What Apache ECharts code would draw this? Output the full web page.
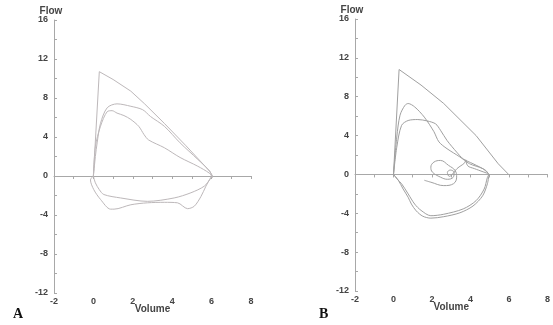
<!DOCTYPE html>
<html><head><meta charset="utf-8">
<script src="https://cdn.jsdelivr.net/npm/echarts@6/dist/echarts.min.js"></script>
<style>html,body{margin:0;padding:0;background:#fff}#c{width:553px;height:325px}</style>
</head><body><div id="c"></div>
<script>
// Axis ranges / ticks
const xMin = -2, xMax = 8, xStep = 2;
const yMin = -12, yMax = 16, yStep = 4;
const panelLabels = ['A', 'B'];

// Panel A curves: [volume, flow]
const A_predicted = [[0,0],[0.3,10.7],[1.0,9.9],[1.9,8.7],[2.6,7.4],[3.6,5.4],[4.7,3.1],[5.9,0.5],[6.05,0]];
const A_exp1 = [[0,0],[0.1,2.0],[0.19,3.4],[0.36,5.4],[0.7,7.0],[1.2,7.4],[1.9,7.15],[2.5,6.8],[2.9,6.1],[3.6,5.1],[4.4,3.4],[5.3,1.7],[5.9,0.5],[6.05,-0.2]];
const A_exp2 = [[0,0],[0.1,3.0],[0.36,5.1],[0.7,6.6],[0.95,6.7],[1.2,6.45],[1.55,6.2],[1.9,5.8],[2.3,5.1],[2.57,4.25],[2.8,3.7],[3.6,2.9],[4.4,1.9],[5.3,1.0],[5.88,0.3],[6.0,0]];
const A_insp1 = [[0,0],[-0.15,-0.4],[0.02,-1.4],[0.36,-2.4],[0.87,-3.4],[1.05,-3.4],[1.9,-2.95],[2.74,-2.75],[3.6,-2.7],[4.27,-2.75],[4.78,-3.35],[5.12,-3.1],[5.46,-2.1],[5.71,-1.05],[5.9,-0.35],[6.0,0]];
const A_insp2 = [[0,0],[0.1,-0.7],[0.3,-1.4],[0.53,-1.9],[1.38,-2.25],[2.74,-2.6],[4.1,-2.25],[4.95,-1.72],[5.63,-1.04],[5.97,-0.2],[6.05,0]];

// Panel B curves
const B_predicted = [[0,0],[0.29,10.8],[1.43,9.2],[2.61,7.3],[4.29,4.0],[5.44,1.1],[5.98,0]];
const B_exp1 = [[0,0],[0.17,3.85],[0.34,6.1],[0.59,7.1],[0.76,7.3],[1.1,6.95],[1.6,5.9],[2.1,4.4],[2.36,3.35],[2.78,2.65],[3.45,1.8],[3.95,1.1],[4.63,0.6],[4.96,0.05]];
const B_exp2 = [[0,0],[0.17,2.8],[0.42,5.05],[0.76,5.55],[1.26,5.65],[1.77,5.5],[2.19,5.2],[2.44,4.55],[2.78,3.5],[3.28,2.3],[3.62,1.6],[4.13,1.1],[4.8,0.4],[4.96,-0.1]];
const B_tidal = [[1.6,-0.6],[1.94,-0.8],[2.61,-1.15],[3.12,-0.95],[3.28,-0.28],[3.2,0.4],[2.86,0.93],[2.44,1.44],[2.1,1.27],[1.94,0.75],[2.02,0.24],[2.44,-0.28],[2.8,-0.5],[3.1,-0.3],[3.15,0.2],[2.95,0.45],[2.8,0.2],[2.9,-0.2],[3.05,0],[3.3,0.6],[3.7,1.2],[3.75,1.5],[3.85,0.9],[4.2,0.6],[4.9,0.1]];
const B_insp1 = [[0,0],[0.25,-0.6],[0.5,-1.5],[0.76,-2.35],[0.93,-3.05],[1.18,-3.75],[1.52,-4.3],[1.94,-4.5],[2.61,-4.35],[3.45,-3.95],[4.13,-3.25],[4.63,-2.2],[4.88,-0.95],[4.96,0]];
const B_insp2 = [[0,0],[0.2,-0.5],[0.42,-0.96],[0.76,-2.0],[1.1,-3.05],[1.43,-3.7],[1.94,-4.25],[2.61,-4.1],[3.62,-3.55],[4.29,-2.7],[4.71,-1.5],[4.88,-0.3],[4.96,0]];

const axisColor = '#a8a8a8';
const labelColor = '#444';
const labelFont = {fontFamily:'Liberation Sans, Arial, sans-serif', fontWeight:'bold', fontSize:9, color:labelColor};

const grids = [
  {left:54, right:302, top:20, bottom:32},
  {left:355, right:0, top:19, bottom:34}
];

const xAxes = [], yAxes = [];
grids.forEach((g, i) => {
  // bottom label axis
  xAxes.push({type:'value', gridIndex:i, min:xMin, max:xMax, interval:xStep,
    position:'bottom',
    axisLine:{show:false, onZero:false}, axisTick:{show:false}, splitLine:{show:false},
    axisLabel:Object.assign({margin:4}, labelFont),
    name:'Volume', nameLocation:'middle', nameGap:11, nameMoveOverlap:false,
    nameTextStyle:{fontFamily:'Liberation Sans, Arial, sans-serif', fontWeight:'bold', fontSize:10, color:labelColor}
  });
  // zero line axis
  xAxes.push({type:'value', gridIndex:i, min:xMin, max:xMax, interval:xStep,
    position:'bottom',
    axisLine:{show:true, onZero:true, lineStyle:{color:axisColor, width:1}},
    axisTick:{show:true, inside:false, length:3, lineStyle:{color:axisColor}},
    minorTick:{show:true, splitNumber:2, length:3, lineStyle:{color:axisColor}},
    axisLabel:{show:false}, splitLine:{show:false}
  });
  yAxes.push({type:'value', gridIndex:i, min:yMin, max:yMax, interval:yStep,
    axisLine:{show:true, onZero:false, lineStyle:{color:axisColor, width:1}},
    axisTick:{show:true, inside:true, length:3, lineStyle:{color:axisColor}},
    minorTick:{show:true, splitNumber:2, length:3, lineStyle:{color:axisColor}},
    splitLine:{show:false},
    axisLabel:Object.assign({margin:6}, labelFont),
    name:'Flow', nameLocation:'end', nameGap:4, nameMoveOverlap:false,
    nameTextStyle:{fontFamily:'Liberation Sans, Arial, sans-serif', fontWeight:'bold', fontSize:10, color:labelColor, padding:[0,6,0,0]}
  });
});

function line(data, xi, yi, color, smooth){
  return {type:'line', data:data, xAxisIndex:xi, yAxisIndex:yi, symbol:'none',
    smooth:smooth, lineStyle:{color:color, width:1}, silent:true, animation:false, z:3};
}
const cA = '#bdb8ba', cB = '#a0a0a0';
const series = [
  line(A_predicted,1,0,cA,false),
  line(A_exp1,1,0,cA,0.3),
  line(A_exp2,1,0,cA,0.3),
  line(A_insp1,1,0,cA,0.3),
  line(A_insp2,1,0,cA,0.3),
  line(B_predicted,3,1,cB,false),
  line(B_exp1,3,1,cB,0.3),
  line(B_exp2,3,1,cB,0.3),
  line(B_tidal,3,1,cB,0.4),
  line(B_insp1,3,1,cB,0.3),
  line(B_insp2,3,1,cB,0.3)
];

const chart = echarts.init(document.getElementById('c'), null, {renderer:'canvas'});
chart.setOption({
  animation:false,
  backgroundColor:'#fff',
  grid:grids,
  xAxis:xAxes,
  yAxis:yAxes,
  series:series,
  graphic:[
    {type:'text', left:13, top:307, style:{text:panelLabels[0], font:'bold 14px "Liberation Serif", "DejaVu Serif", serif', fill:'#111'}},
    {type:'text', left:319, top:307, style:{text:panelLabels[1], font:'bold 14px "Liberation Serif", "DejaVu Serif", serif', fill:'#111'}}
  ]
});
</script></body></html>
